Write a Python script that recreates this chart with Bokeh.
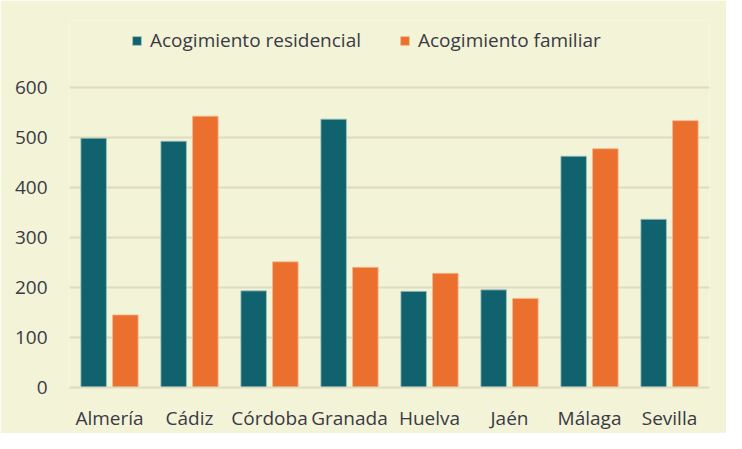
from bokeh.plotting import figure
from bokeh.models import ColumnDataSource, Legend, LegendItem, FactorRange
from bokeh.transform import dodge
from bokeh.embed import file_html
from bokeh.resources import INLINE

provinces = ["Almería", "Cádiz", "Córdoba", "Granada", "Huelva", "Jaén", "Málaga", "Sevilla"]
residencial = [498, 492, 193, 536, 192, 195, 462, 336]
familiar = [145, 542, 251, 240, 228, 178, 477, 533]
y_ticks = [0, 100, 200, 300, 400, 500, 600]

BG = "#f3f3d8"
TEAL = "#10636e"
ORANGE = "#ec702d"
GRID = "#dedcc0"
TXT = "#3a3a44"
FONT = "Open Sans"
FS = "19px"

src = ColumnDataSource(dict(prov=provinces, res=residencial, fam=familiar))

# y range extends above 600 to leave room for the legend inside the frame
p = figure(x_range=FactorRange(*provinces), y_range=(0, 733), width=726, height=433,
           output_backend="svg", toolbar_location=None,
           min_border_left=69, min_border_right=17, min_border_top=20, min_border_bottom=43)
p.background_fill_color = BG
p.border_fill_color = BG
p.outline_line_color = None

r1 = p.vbar(x=dodge("prov", -0.198, range=p.x_range), top="res", width=0.32, source=src,
            fill_color=TEAL, line_color="#9fc3c0", line_width=0.8)
r2 = p.vbar(x=dodge("prov", 0.198, range=p.x_range), top="fam", width=0.32, source=src,
            fill_color=ORANGE, line_color="#f6b98f", line_width=0.8)

p.xgrid.grid_line_color = None
p.ygrid.grid_line_color = GRID
p.ygrid.grid_line_width = 1.8
p.ygrid.level = "underlay"
p.yaxis.ticker = y_ticks
p.x_range.range_padding = 0
p.x_range.group_padding = 0

for ax in (p.xaxis[0], p.yaxis[0]):
    ax.axis_line_color = None
    ax.major_tick_line_color = None
    ax.minor_tick_line_color = None
    ax.major_label_text_font = FONT
    ax.major_label_text_font_size = FS
    ax.major_label_text_color = TXT
p.xaxis.major_label_standoff = 11
p.yaxis.major_label_standoff = 16
p.xaxis.axis_line_color = GRID
p.xaxis.axis_line_width = 1.8

legend = Legend(items=[LegendItem(label="Acogimiento residencial", renderers=[r1]),
                       LegendItem(label="Acogimiento familiar", renderers=[r2])],
                orientation="horizontal", location=(62, 334),
                background_fill_alpha=0, border_line_color=None,
                label_text_font=FONT, label_text_font_size=FS, label_text_color=TXT,
                glyph_width=11, glyph_height=11, spacing=38, padding=0, margin=0,
                label_standoff=8)
p.add_layout(legend, "center")

open("out.html", "w").write(file_html(p, INLINE))
